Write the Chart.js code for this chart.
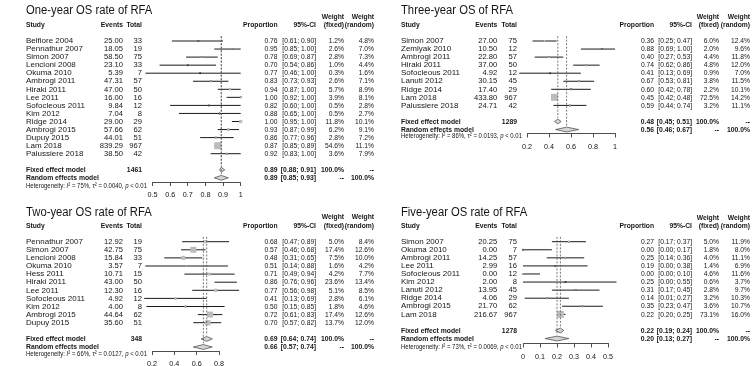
<!DOCTYPE html>
<html>
<head>
<meta charset="utf-8">
<script src="https://cdn.jsdelivr.net/npm/chart.js@4.4.1/dist/chart.umd.min.js"></script>
<style>
  html, body { margin: 0; padding: 0; background: #fff; }
  #wrap { position: relative; width: 756px; height: 366px; overflow: hidden; }
  #wrap canvas { position: absolute; left: 0; top: 0; }
</style>
</head>
<body>
<div id="wrap">
  <canvas id="c1y" width="756" height="366"></canvas>
  <canvas id="c3y" width="756" height="366"></canvas>
  <canvas id="c2y" width="756" height="366"></canvas>
  <canvas id="c5y" width="756" height="366"></canvas>
</div>
<script>
// ---- one-year OS ----
const STUDIES_1Y = ["Belfiore 2004", "Pennathur 2007", "Simon 2007", "Lencioni 2008", "Okuma 2010", "Ambrogi 2011", "Hiraki 2011", "Lee 2011", "Sofocleous 2011", "Kim 2012", "Ridge 2014", "Ambrogi 2015", "Dupuy 2015", "Lam 2018", "Palussiere 2018"];
const EVENTS_1Y = [25.00, 18.05, 58.50, 23.10, 5.39, 47.31, 47.00, 16.00, 9.84, 7.04, 29.00, 57.66, 44.01, 839.29, 38.50];
const TOTAL_1Y = [33, 19, 75, 33, 7, 57, 50, 16, 12, 8, 29, 62, 51, 967, 42];
const PROP_1Y = [0.76, 0.95, 0.78, 0.70, 0.77, 0.83, 0.94, 1.00, 0.82, 0.88, 1.00, 0.93, 0.86, 0.87, 0.92];
const LOWER_1Y = [0.61, 0.85, 0.69, 0.54, 0.46, 0.73, 0.87, 0.92, 0.60, 0.65, 0.95, 0.87, 0.77, 0.85, 0.83];
const UPPER_1Y = [0.90, 1.00, 0.87, 0.86, 1.00, 0.93, 1.00, 1.00, 1.00, 1.00, 1.00, 0.99, 0.96, 0.89, 1.00];
const WFIXED_1Y = [1.2, 2.6, 2.8, 1.0, 0.3, 2.6, 5.7, 3.9, 0.5, 0.5, 11.8, 6.2, 2.8, 54.6, 3.6];
const WRANDOM_1Y = [4.8, 7.0, 7.3, 4.4, 1.6, 7.1, 8.9, 8.1, 2.8, 2.7, 10.1, 9.1, 7.2, 11.1, 7.9];
const FIXED_1Y = [0.89, 0.88, 0.91];
const RANDOM_1Y = [0.89, 0.85, 0.93];
const HET_1Y = ["75%", "0.0040", "< 0.01"];
const TICKS_1Y = [0.5, 0.6, 0.7, 0.8, 0.9, 1];
const TICKLABELS_1Y = ["0.5", "0.6", "0.7", "0.8", "0.9", "1"];

// ---- three-year OS ----
const STUDIES_3Y = ["Simon 2007", "Zemlyak 2010", "Ambrogi 2011", "Hiraki 2011", "Sofocleous 2011", "Lanuti 2012", "Ridge 2014", "Lam 2018", "Palussiere 2018"];
const EVENTS_3Y = [27.00, 10.50, 22.80, 37.00, 4.92, 30.15, 17.40, 433.80, 24.71];
const TOTAL_3Y = [75, 12, 57, 50, 12, 45, 29, 967, 42];
const PROP_3Y = [0.36, 0.88, 0.40, 0.74, 0.41, 0.67, 0.60, 0.45, 0.59];
const LOWER_3Y = [0.25, 0.69, 0.27, 0.62, 0.13, 0.53, 0.42, 0.42, 0.44];
const UPPER_3Y = [0.47, 1.00, 0.53, 0.86, 0.69, 0.81, 0.78, 0.48, 0.74];
const WFIXED_3Y = [6.0, 2.0, 4.4, 4.8, 0.9, 3.8, 2.2, 72.5, 3.2];
const WRANDOM_3Y = [12.4, 9.6, 11.8, 12.0, 7.0, 11.5, 10.1, 14.2, 11.1];
const FIXED_3Y = [0.48, 0.45, 0.51];
const RANDOM_3Y = [0.56, 0.46, 0.67];
const HET_3Y = ["86%", "0.0193", "< 0.01"];
const TICKS_3Y = [0.2, 0.4, 0.6, 0.8, 1];
const TICKLABELS_3Y = ["0.2", "0.4", "0.6", "0.8", "1"];

// ---- two-year OS ----
const STUDIES_2Y = ["Pennathur 2007", "Simon 2007", "Lencioni 2008", "Okuma 2010", "Hess 2011", "Hiraki 2011", "Lee 2011", "Sofocleous 2011", "Kim 2012", "Ambrogi 2015", "Dupuy 2015"];
const EVENTS_2Y = [12.92, 42.75, 15.84, 3.57, 10.71, 43.00, 12.30, 4.92, 4.00, 44.64, 35.60];
const TOTAL_2Y = [19, 75, 33, 7, 15, 50, 16, 12, 8, 62, 51];
const PROP_2Y = [0.68, 0.57, 0.48, 0.51, 0.71, 0.86, 0.77, 0.41, 0.50, 0.72, 0.70];
const LOWER_2Y = [0.47, 0.46, 0.31, 0.14, 0.49, 0.76, 0.56, 0.13, 0.15, 0.61, 0.57];
const UPPER_2Y = [0.89, 0.68, 0.65, 0.88, 0.94, 0.96, 0.98, 0.69, 0.85, 0.83, 0.82];
const WFIXED_2Y = [5.0, 17.4, 7.5, 1.6, 4.2, 23.6, 5.1, 2.8, 1.8, 17.4, 13.7];
const WRANDOM_2Y = [8.4, 12.6, 10.0, 4.2, 7.7, 13.4, 8.5, 6.1, 4.6, 12.6, 12.0];
const FIXED_2Y = [0.69, 0.64, 0.74];
const RANDOM_2Y = [0.66, 0.57, 0.74];
const HET_2Y = ["66%", "0.0127", "< 0.01"];
const TICKS_2Y = [0.2, 0.4, 0.6, 0.8];
const TICKLABELS_2Y = ["0.2", "0.4", "0.6", "0.8"];

// ---- five-year OS ----
const STUDIES_5Y = ["Simon 2007", "Okuma 2010", "Ambrogi 2011", "Lee 2011", "Sofocleous 2011", "Kim 2012", "Lanuti 2012", "Ridge 2014", "Ambrogi 2015", "Lam 2018"];
const EVENTS_5Y = [20.25, 0.00, 14.25, 2.99, 0.00, 2.00, 13.95, 4.06, 21.70, 216.67];
const TOTAL_5Y = [75, 7, 57, 16, 12, 8, 45, 29, 62, 967];
const PROP_5Y = [0.27, 0.00, 0.25, 0.19, 0.00, 0.25, 0.31, 0.14, 0.35, 0.22];
const LOWER_5Y = [0.17, 0.00, 0.14, 0.00, 0.00, 0.00, 0.17, 0.01, 0.23, 0.20];
const UPPER_5Y = [0.37, 0.17, 0.36, 0.38, 0.10, 0.55, 0.45, 0.27, 0.47, 0.25];
const WFIXED_5Y = [5.0, 1.8, 4.0, 1.4, 4.6, 0.6, 2.8, 3.2, 3.6, 73.1];
const WRANDOM_5Y = [11.9, 8.0, 11.1, 6.9, 11.6, 3.7, 9.7, 10.3, 10.7, 16.0];
const FIXED_5Y = [0.22, 0.19, 0.24];
const RANDOM_5Y = [0.20, 0.13, 0.27];
const HET_5Y = ["73%", "0.0069", "< 0.01"];
const TICKS_5Y = [0, 0.1, 0.2, 0.3, 0.4, 0.5];
const TICKLABELS_5Y = ["0", "0.1", "0.2", "0.3", "0.4", "0.5"];

const FONT = '"Liberation Sans", Arial, Helvetica, sans-serif';
const W = 756, H = 366;
const AXIS_H = 17;
const BOX_MAX = 7;
const HET_WIDTH = 121;

// where each panel sits on the page
const LEFT_COLS = { x0: 26, evR: 123, totR: 142, propR: 277.5, ciR: 316, wfR: 344, wrR: 374 };
const RIGHT_COLS = { x0: 401, evR: 497.3, totR: 517, propR: 654, ciR: 692, wfR: 719, wrR: 750 };

const f2 = (v) => v.toFixed(2);
const pct = (v) => v.toFixed(1) + "%";
const ci = (lo, hi) => "[" + f2(lo) + "; " + f2(hi) + "]";

// text drawn with an optional horizontal squeeze (the source face is narrower)
function put(ctx, str, x, y, align, font, sx) {
  ctx.save();
  ctx.font = font;
  ctx.textAlign = align;
  ctx.translate(x, y);
  ctx.scale(sx || 1, 1);
  ctx.fillText(str, 0, 0);
  ctx.restore();
}

function tablePlugin(p, L) {
  return {
    id: "forestTable",
    afterDraw(chart) {
      const ctx = chart.ctx;
      const ys = chart.scales.y;
      const row = (i) => ys.getPixelForValue(i);
      const n = p.studies.length;
      const reg = "8px " + FONT;
      const bold = "bold 8px " + FONT, head = "bold 7.5px " + FONT;
      const RS = 0.84, BS = 0.85, HS = 0.9;
      ctx.save();
      ctx.fillStyle = "#151515";
      ctx.textBaseline = "middle";

      put(ctx, p.title, L.x0, L.titleY, "left", "12.5px " + FONT, 0.9);

      const hy = row(-2), wy = row(-3);
      put(ctx, "Study", L.x0, hy, "left", head, HS);
      put(ctx, "Events", L.evR, hy, "right", head, HS);
      put(ctx, "Total", L.totR, hy, "right", head, HS);
      put(ctx, "Proportion", L.propR, hy, "right", head, HS);
      put(ctx, "95%-CI", L.ciR, hy, "right", head, HS);
      put(ctx, "Weight", L.wfR, wy, "right", head, HS);
      put(ctx, "Weight", L.wrR, wy, "right", head, HS);
      put(ctx, "(fixed)", L.wfR, hy, "right", head, HS);
      put(ctx, "(random)", L.wrR, hy, "right", head, HS);

      p.studies.forEach((s, i) => {
        const y = row(i);
        put(ctx, s, L.x0, y, "left", reg);
        put(ctx, f2(p.events[i]), L.evR, y, "right", reg, 0.95);
        put(ctx, String(p.total[i]), L.totR, y, "right", reg, 0.95);
        put(ctx, f2(p.prop[i]), L.propR, y, "right", reg, RS);
        put(ctx, ci(p.lower[i], p.upper[i]), L.ciR, y, "right", reg, RS);
        put(ctx, pct(p.wFixed[i]), L.wfR, y, "right", reg, RS);
        put(ctx, pct(p.wRandom[i]), L.wrR, y, "right", reg, RS);
      });

      const fy = row(n + 1), ry = row(n + 2);
      const sumTotal = p.total.reduce((a, b) => a + b, 0);
      put(ctx, "Fixed effect model", L.x0, fy, "left", bold, BS);
      put(ctx, String(sumTotal), L.totR, fy, "right", bold, BS);
      put(ctx, f2(p.fixed[0]), L.propR, fy, "right", bold, BS);
      put(ctx, ci(p.fixed[1], p.fixed[2]), L.ciR, fy, "right", bold, BS);
      put(ctx, "100.0%", L.wfR, fy, "right", bold, BS);
      put(ctx, "--", L.wrR, fy, "right", bold, BS);
      put(ctx, "Random effects model", L.x0, ry, "left", bold, BS);
      put(ctx, f2(p.random[0]), L.propR, ry, "right", bold, BS);
      put(ctx, ci(p.random[1], p.random[2]), L.ciR, ry, "right", bold, BS);
      put(ctx, "--", L.wfR, ry, "right", bold, BS);
      put(ctx, "100.0%", L.wrR, ry, "right", bold, BS);

      // heterogeneity line, with italic symbols, fitted to the source width
      const segs = [
        ["Heterogeneity: ", false], ["I", true], ["\u00B2 = " + p.het[0] + ", ", false],
        ["\u03C4", false], ["\u00B2 = " + p.het[1] + ", ", false], ["p", true], [" " + p.het[2], false]
      ];
      const fontOf = (it) => (it ? "italic " : "") + "7.4px " + FONT;
      let total = 0;
      segs.forEach(([t, it]) => { ctx.font = fontOf(it); total += ctx.measureText(t).width; });
      const sx = HET_WIDTH / total;
      ctx.save();
      ctx.translate(L.x0, L.hetY);
      ctx.scale(sx, 1);
      ctx.textAlign = "left";
      let x = 0;
      segs.forEach(([t, it]) => {
        ctx.font = fontOf(it);
        ctx.fillText(t, x, 0);
        x += ctx.measureText(t).width;
      });
      ctx.restore();
      ctx.restore();
    }
  };
}

function vline(v, from, to) {
  return {
    type: "line", data: [{ x: v, y: from }, { x: v, y: to }],
    borderColor: "#555", borderWidth: 0.8, borderDash: [2, 1.5],
    pointRadius: 0, clip: false
  };
}

function diamond(est, r) {
  const h = 0.3;
  return {
    type: "line",
    data: [{ x: est[1], y: r }, { x: est[0], y: r - h }, { x: est[2], y: r }, { x: est[0], y: r + h }, { x: est[1], y: r }],
    borderColor: "#555", borderWidth: 0.8, backgroundColor: "#d6d6d6",
    fill: "shape", pointRadius: 0, tension: 0, clip: false
  };
}

function buildPanel(canvasId, p, L) {
  const n = p.studies.length;
  const wMax = Math.max(...p.wFixed);
  const pts = p.prop.map((v, i) => ({ x: v, y: i }));
  const datasets = [
    vline(p.fixed[0], -0.6, n + 0.55),
    vline(p.random[0], -0.6, n + 1.55),
    {
      type: "scatter", data: pts, pointStyle: "rect",
      pointRadius: p.wFixed.map((w) => BOX_MAX * Math.sqrt(w / wMax) / Math.SQRT2),
      backgroundColor: "#bdbdbd", borderWidth: 0, clip: false
    }
  ];
  p.prop.forEach((_, i) => {
    datasets.push({
      type: "line", data: [{ x: p.lower[i], y: i }, { x: p.upper[i], y: i }],
      borderColor: "#1a1a1a", borderWidth: 1, pointRadius: 0, clip: false
    });
  });
  datasets.push({ type: "scatter", data: pts, pointRadius: 1, backgroundColor: "#111", borderWidth: 0, clip: false });
  datasets.push(diamond(p.fixed, n + 1));
  datasets.push(diamond(p.random, n + 2));

  const top = L.rowY - 14;
  new Chart(document.getElementById(canvasId), {
    type: "scatter",
    data: { datasets },
    options: {
      responsive: false, animation: false, events: [],
      devicePixelRatio: 1,
      layout: { padding: { left: L.axisL, right: W - L.axisR, top: top, bottom: H - L.axisY - AXIS_H } },
      plugins: { legend: { display: false }, tooltip: { enabled: false } },
      scales: {
        x: {
          type: "linear", position: "bottom", min: p.ticks[0], max: p.ticks[p.ticks.length - 1],
          afterBuildTicks: (scale) => { scale.ticks = p.ticks.map((v) => ({ value: v })); },
          afterFit: (scale) => { scale.height = AXIS_H; },
          grid: { drawOnChartArea: false, drawTicks: true, tickLength: 4, color: "#222", lineWidth: 0.8 },
          border: { display: true, color: "#222", width: 0.8 },
          ticks: {
            autoSkip: false, maxRotation: 0, padding: 5, color: "#111",
            font: { family: FONT, size: 7.2 },
            callback: (v, i) => p.tickLabels[i]
          }
        },
        y: {
          type: "linear", display: false, reverse: true,
          min: (top - L.rowY) / L.rowH, max: (L.axisY - L.rowY) / L.rowH
        }
      }
    },
    plugins: [tablePlugin(p, L)]
  });
}

buildPanel("c1y", {
  title: "One-year OS rate of RFA", studies: STUDIES_1Y, events: EVENTS_1Y, total: TOTAL_1Y,
  prop: PROP_1Y, lower: LOWER_1Y, upper: UPPER_1Y, wFixed: WFIXED_1Y, wRandom: WRANDOM_1Y,
  fixed: FIXED_1Y, random: RANDOM_1Y, het: HET_1Y, ticks: TICKS_1Y, tickLabels: TICKLABELS_1Y
}, Object.assign({}, LEFT_COLS, { titleY: 10.5, rowY: 41, rowH: 8.05, axisL: 152.5, axisR: 240.7, axisY: 182, hetY: 185.5 }));

buildPanel("c3y", {
  title: "Three-year OS of RFA", studies: STUDIES_3Y, events: EVENTS_3Y, total: TOTAL_3Y,
  prop: PROP_3Y, lower: LOWER_3Y, upper: UPPER_3Y, wFixed: WFIXED_3Y, wRandom: WRANDOM_3Y,
  fixed: FIXED_3Y, random: RANDOM_3Y, het: HET_3Y, ticks: TICKS_3Y, tickLabels: TICKLABELS_3Y
}, Object.assign({}, RIGHT_COLS, { titleY: 10.5, rowY: 41, rowH: 8.05, axisL: 527, axisR: 615, axisY: 133.5, hetY: 136 }));

buildPanel("c2y", {
  title: "Two-year OS rate of RFA", studies: STUDIES_2Y, events: EVENTS_2Y, total: TOTAL_2Y,
  prop: PROP_2Y, lower: LOWER_2Y, upper: UPPER_2Y, wFixed: WFIXED_2Y, wRandom: WRANDOM_2Y,
  fixed: FIXED_2Y, random: RANDOM_2Y, het: HET_2Y, ticks: TICKS_2Y, tickLabels: TICKLABELS_2Y
}, Object.assign({}, LEFT_COLS, { titleY: 213, rowY: 241.7, rowH: 8.1, axisL: 152, axisR: 219, axisY: 351, hetY: 354 }));

buildPanel("c5y", {
  title: "Five-year OS rate of RFA", studies: STUDIES_5Y, events: EVENTS_5Y, total: TOTAL_5Y,
  prop: PROP_5Y, lower: LOWER_5Y, upper: UPPER_5Y, wFixed: WFIXED_5Y, wRandom: WRANDOM_5Y,
  fixed: FIXED_5Y, random: RANDOM_5Y, het: HET_5Y, ticks: TICKS_5Y, tickLabels: TICKLABELS_5Y
}, Object.assign({}, RIGHT_COLS, { titleY: 213, rowY: 241.7, rowH: 8.07, axisL: 523, axisR: 608, axisY: 343.5, hetY: 346.5 }));
</script>
</body>
</html>
